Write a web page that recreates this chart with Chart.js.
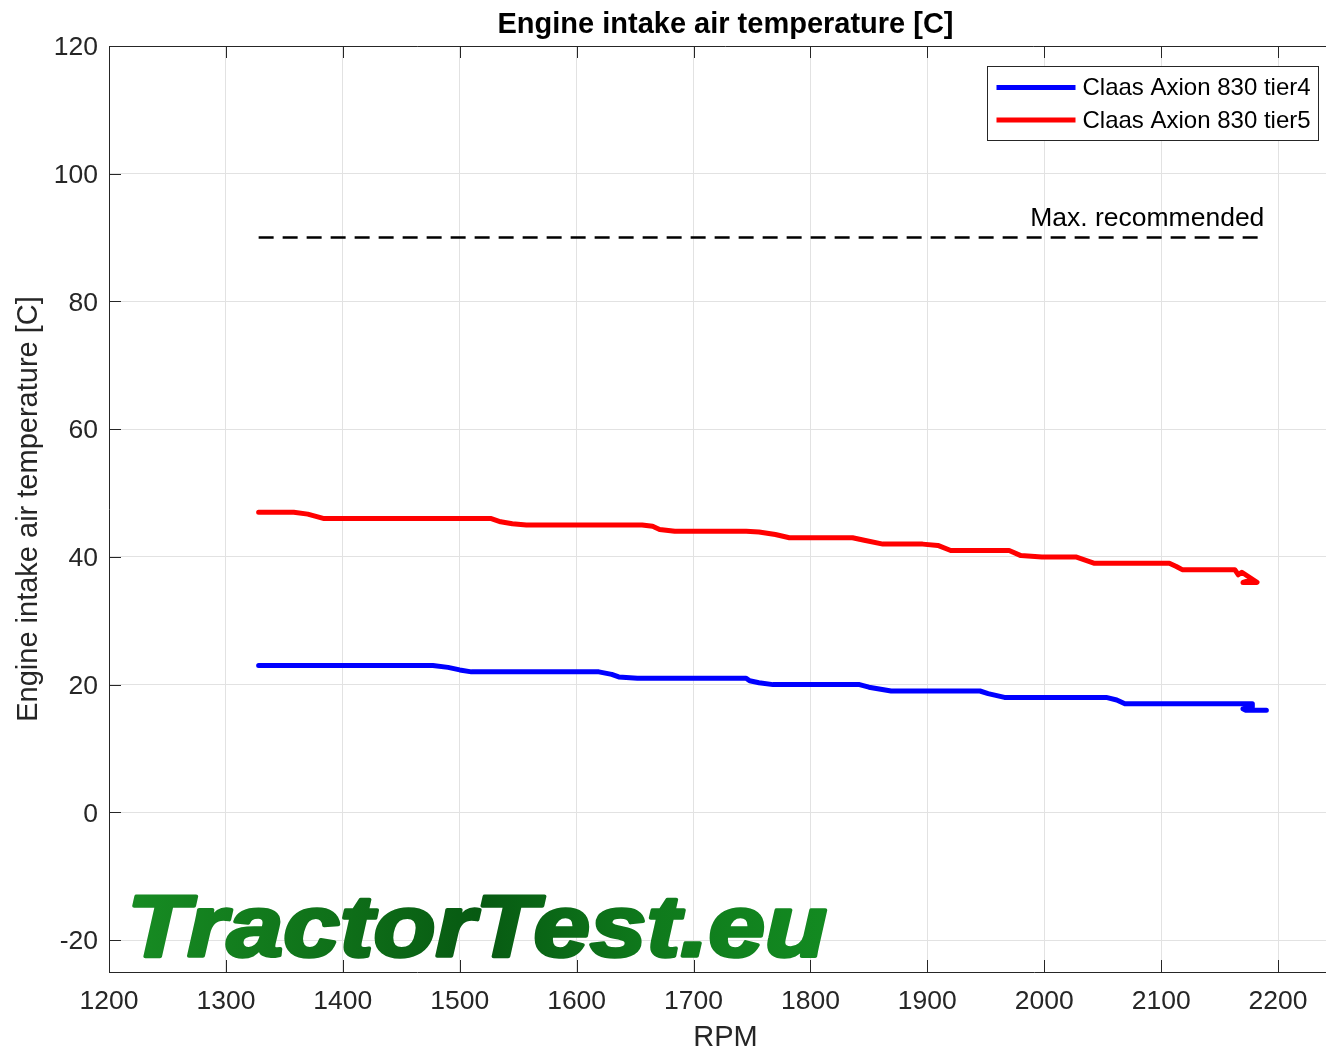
<!DOCTYPE html>
<html>
<head>
<meta charset="utf-8">
<title>Engine intake air temperature [C]</title>
<script src="https://cdn.jsdelivr.net/npm/chart.js@4.4.1/dist/chart.umd.min.js"></script>
<style>
    html, body { margin: 0; padding: 0; overflow: hidden; background: #fff; }
    canvas { display: block; }
</style>
</head>
<body>
<canvas id="intakeChart" width="1342" height="1054"></canvas>
<script>
// tick values of both axes
const xTicks = [1200, 1300, 1400, 1500, 1600, 1700, 1800, 1900, 2000, 2100, 2200];
const yTicks = [-20, 0, 20, 40, 60, 80, 100, 120];

const seriesLabels = ['Claas Axion 830 tier4', 'Claas Axion 830 tier5'];
const seriesColors = ['#0000ff', '#ff0000'];

// tier4 (rpm / degrees C)
const tier4Rpm  = [1328, 1477, 1490, 1500, 1510, 1619, 1630, 1636, 1652, 1745, 1748, 1756, 1768, 1842, 1850, 1869,
                   1945, 1952, 1966, 2053, 2062, 2069, 2178, 2178, 2170, 2172, 2190];
const tier4Temp = [23, 23, 22.7, 22.3, 22, 22, 21.6, 21.2, 21, 21, 20.6, 20.3, 20, 20, 19.6, 19,
                   19, 18.6, 18, 18, 17.6, 17, 17, 16.5, 16.2, 16, 16];

// tier5
const tier5Rpm  = [1328, 1358, 1370, 1384, 1527, 1535, 1545, 1557, 1656, 1665, 1671, 1684, 1745, 1756, 1770, 1782,
                   1836, 1846, 1862, 1896, 1909, 1920, 1970, 1980, 1998, 2027, 2043, 2107, 2113, 2118, 2163,
                   2166, 2169, 2182, 2170, 2175];
const tier5Temp = [47, 47, 46.7, 46, 46, 45.5, 45.2, 45, 45, 44.8, 44.3, 44, 44, 43.9, 43.5, 43,
                   43, 42.6, 42, 42, 41.8, 41, 41, 40.2, 40, 40, 39, 39, 38.5, 38, 38,
                   37.2, 37.6, 36, 36, 36.3];

// max. recommended limit
const maxRecRpm  = [1328, 2190];
const maxRecTemp = [90, 90];

const FONT = '"Liberation Sans", Arial, Helvetica, sans-serif';
const AXIS_COLOR = '#262626';
const GRID_COLOR = '#e2e2e2';

function toPoints(xs, ys) {
    return xs.map((x, i) => ({ x: x, y: ys[i] }));
}

// ticks inside the box, top border, limit label, legend and watermark
const decorations = {
    id: 'decorations',
    beforeDatasetsDraw(chart) {
        const { ctx, chartArea: a } = chart;
        const text = 'TractorTest.eu';
        ctx.save();
        ctx.font = 'italic bold 88px ' + FONT;
        const w = ctx.measureText(text).width;
        const sx = 700 / w;
        ctx.translate(a.left + 18, a.bottom - 16);
        ctx.scale(sx, 1);
        const grad = ctx.createLinearGradient(0, 0, w, 0);
        grad.addColorStop(0, '#178c23');
        grad.addColorStop(0.3, '#0f7019');
        grad.addColorStop(0.5, '#075a12');
        grad.addColorStop(0.75, '#0f7a1c');
        grad.addColorStop(1, '#138a21');
        ctx.fillStyle = grad;
        ctx.strokeStyle = grad;
        ctx.lineWidth = 3.5;
        ctx.lineJoin = 'round';
        ctx.fillText(text, 0, 0);
        ctx.strokeText(text, 0, 0);
        ctx.restore();
    },
    afterDatasetsDraw(chart) {
        const { ctx, chartArea: a, scales: { x, y } } = chart;
        ctx.save();

        // box top + inward ticks
        ctx.strokeStyle = AXIS_COLOR;
        ctx.lineWidth = 1;
        ctx.beginPath();
        ctx.moveTo(a.left, a.top + 0.5);
        ctx.lineTo(a.right, a.top + 0.5);
        xTicks.forEach(v => {
            const px = Math.round(x.getPixelForValue(v)) + 0.5;
            ctx.moveTo(px, a.bottom);
            ctx.lineTo(px, a.bottom - 12);
            ctx.moveTo(px, a.top);
            ctx.lineTo(px, a.top + 12);
        });
        yTicks.forEach(v => {
            const py = Math.round(y.getPixelForValue(v)) + 0.5;
            ctx.moveTo(a.left, py);
            ctx.lineTo(a.left + 12, py);
        });
        ctx.stroke();

        // limit label
        ctx.font = '26.5px ' + FONT;
        ctx.fillStyle = '#000';
        ctx.textAlign = 'right';
        ctx.textBaseline = 'alphabetic';
        ctx.fillText('Max. recommended', x.getPixelForValue(maxRecRpm[1]) - 2, y.getPixelForValue(maxRecTemp[1]) - 12);

        // legend
        const bx = Math.round(a.right) - 354.5, by = Math.round(a.top) + 20.5;
        ctx.fillStyle = '#fff';
        ctx.fillRect(bx, by, 331, 74);
        ctx.strokeStyle = AXIS_COLOR;
        ctx.strokeRect(bx, by, 331, 74);
        ctx.font = '24px ' + FONT;
        ctx.textAlign = 'left';
        ctx.textBaseline = 'middle';
        seriesLabels.forEach((label, i) => {
            const ly = by + 21 + i * 32.5;
            ctx.strokeStyle = seriesColors[i];
            ctx.lineWidth = 5;
            ctx.beginPath();
            ctx.moveTo(bx + 9, ly);
            ctx.lineTo(bx + 88, ly);
            ctx.stroke();
            ctx.fillStyle = '#000';
            ctx.fillText(label, bx + 95, ly + 1);
        });
        ctx.restore();
    }
};

const ctx = document.getElementById('intakeChart').getContext('2d');
const intakeChart = new Chart(ctx, {
    type: 'line',
    data: {
        datasets: [
            { label: seriesLabels[0], data: toPoints(tier4Rpm, tier4Temp), borderColor: seriesColors[0], borderWidth: 5 },
            { label: seriesLabels[1], data: toPoints(tier5Rpm, tier5Temp), borderColor: seriesColors[1], borderWidth: 5 },
            { label: 'Max. recommended', data: toPoints(maxRecRpm, maxRecTemp), borderColor: '#000', borderWidth: 2.5, borderDash: [15, 9], borderCapStyle: 'butt' }
        ]
    },
    options: {
        responsive: false,
        animation: false,
        events: [],
        layout: { padding: 0 },
        elements: {
            point: { radius: 0 },
            line: { tension: 0, fill: false, borderCapStyle: 'round', borderJoinStyle: 'round' }
        },
        plugins: {
            legend: { display: false },
            tooltip: { enabled: false },
            title: {
                display: true,
                text: 'Engine intake air temperature [C]',
                fullSize: false,
                color: '#000',
                font: { family: FONT, size: 29, weight: 'bold', lineHeight: 1.2 },
                padding: { top: 8, bottom: 3.2 }
            }
        },
        scales: {
            x: {
                type: 'linear',
                min: 1200,
                max: 2254.7,
                afterFit: s => { s.height = 82; },
                afterBuildTicks: s => { s.ticks = xTicks.map(v => ({ value: v })); },
                ticks: { color: AXIS_COLOR, font: { family: FONT, size: 26.5 }, padding: 14, maxRotation: 0, autoSkip: false, callback: v => String(v) },
                grid: { color: GRID_COLOR, drawTicks: false },
                border: { color: AXIS_COLOR, width: 1 },
                title: { display: true, text: 'RPM', color: AXIS_COLOR, font: { family: FONT, size: 29, lineHeight: 1.1 }, padding: 0 }
            },
            y: {
                type: 'linear',
                min: -25,
                max: 120,
                afterFit: s => { s.width = 109; },
                afterBuildTicks: s => { s.ticks = yTicks.map(v => ({ value: v })); },
                ticks: { color: AXIS_COLOR, font: { family: FONT, size: 26.5 }, padding: 11, labelOffset: 2, callback: v => String(v) },
                grid: { color: GRID_COLOR, drawTicks: false },
                border: { color: AXIS_COLOR, width: 1 },
                title: { display: true, text: 'Engine intake air temperature [C]', color: AXIS_COLOR, font: { family: FONT, size: 29, lineHeight: 1.1 }, padding: { top: 13 } }
            }
        }
    },
    plugins: [decorations]
});
</script>
</body>
</html>
